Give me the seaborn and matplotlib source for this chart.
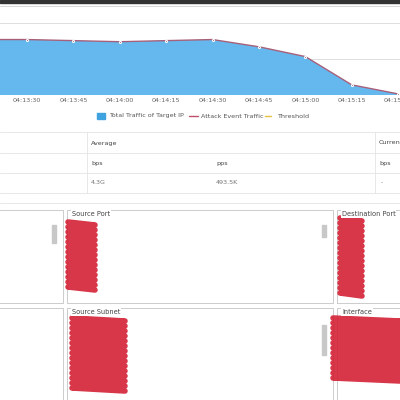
import seaborn as sns
import pandas as pd
from matplotlib import pyplot as plt
from matplotlib.patches import Rectangle

# time in seconds after 04:13:00, traffic in G units
times = [15, 30, 45, 60, 75, 90, 105, 120, 135, 150]
traffic = [1.53, 1.53, 1.5, 1.47, 1.5, 1.53, 1.33, 1.06, 0.28, 0.03]
tick_labels = ['04:13:30', '04:13:45', '04:14:00', '04:14:15', '04:14:30',
               '04:14:45', '04:15:00', '04:15:15', '04:15:30']
legend_labels = ['Total Traffic of Target IP', 'Attack Event Traffic', 'Threshold']
avg_bps = '4.3G'
avg_pps = '493.5K'

df = pd.DataFrame({'t': times, 'traffic': traffic})

sns.set_style('white')
fig = plt.figure(figsize=(4, 4), dpi=100)
fig.patch.set_facecolor('white')


def fy(py):
    return 1 - py / 400


def fx(px):
    return px / 400


def text(px, py, s, size=4.8, color='#555555', **kw):
    fig.text(fx(px), fy(py), s, fontsize=size, color=color, va='center', **kw)


def hline(py, x0=0, x1=400, color='#e4e4e4', lw=0.6):
    fig.add_artist(plt.Line2D([fx(x0), fx(x1)], [fy(py), fy(py)], color=color, lw=lw))


def vline(px, y0, y1, color='#e4e4e4', lw=0.6):
    fig.add_artist(plt.Line2D([fx(px), fx(px)], [fy(y0), fy(y1)], color=color, lw=lw))


# top dark bar
fig.add_artist(Rectangle((0, fy(3)), 1, 3 / 400, transform=fig.transFigure, color='#333333'))
hline(6, color='#d0d0d0')

ax = fig.add_axes([0, fy(95), 1, (95 - 8) / 400])
ax.fill_between(df['t'], df['traffic'], color='#64b8ee', lw=0)
sns.lineplot(data=df, x='t', y='traffic', ax=ax, color='#a8607a', lw=1.0,
             marker='o', markersize=1.5)
ax.set_xlim(21.3, 150.6)
ax.set_ylim(0, 2.4)
ax.set_yticks([1, 2])
ax.yaxis.grid(True, color='#dddddd', lw=0.7)
ax.set_yticklabels([])
ax.tick_params(left=False, bottom=False, labelbottom=False)
for s in ax.spines.values():
    s.set_visible(False)
ax.axhline(0, color='#cccccd', lw=0.7)
ax.set_xlabel('')
ax.set_ylabel('')
for lbl, t in zip(tick_labels, times[1:]):
    xp = (t - 21.3) / (150.6 - 21.3) * 400
    text(xp, 100, lbl, size=4.6, color='#666666', ha='center')

# legend
fig.add_artist(Rectangle((fx(97), fy(119)), 8 / 400, 6 / 400, transform=fig.transFigure, color='#3fa3e0'))
text(109, 116, legend_labels[0], size=4.6)
hline(116, 189, 198, color='#c0506a', lw=1)
text(201, 116, legend_labels[1], size=4.6)
hline(116, 265, 271, color='#e8c040', lw=1)
text(277, 116, legend_labels[2], size=4.6)

# table
hline(132)
for y in (153, 173, 193):
    hline(y)
vline(87, 132, 193)
vline(375, 132, 193)
text(91, 143, 'Average', size=4.6, color='#444444')
text(379, 143, 'Curren', size=4.6, color='#444444')
text(91, 164, 'bps', size=4.6, color='#444444')
text(216, 164, 'pps', size=4.6, color='#444444')
text(379, 164, 'bps', size=4.6, color='#444444')
text(91, 183, avg_bps, size=4.6, color='#777777')
text(216, 183, avg_pps, size=4.6, color='#777777')
text(381, 183, '-', size=4.6, color='#777777')
hline(203)

# panels
panels = [(-2, 63, 210, 303, ''), (67, 333, 210, 303, 'Source Port'),
          (337, 402, 210, 303, 'Destination Port'),
          (-2, 63, 308, 402, ''), (67, 333, 308, 402, 'Source Subnet'),
          (337, 402, 308, 402, 'Interface')]
for x0, x1, y0, y1, title in panels:
    fig.add_artist(Rectangle((fx(x0), fy(y1)), (x1 - x0) / 400, (y1 - y0) / 400,
                             transform=fig.transFigure, fill=False, ec='#cccccc', lw=0.7))
    if title:
        text(x0 + 5, y0 + 4, title, size=4.8, color='#444444',
             bbox=dict(fc='white', ec='none', pad=0.5))
# scrollbars
for px, y0, y1 in [(54, 225, 243), (324, 225, 237), (324, 325, 355)]:
    fig.add_artist(Rectangle((fx(px - 2), fy(y1)), 4 / 400, (y1 - y0) / 400,
                             transform=fig.transFigure, color='#c8c8c8'))

# redaction scribbles
red = '#d42035'
for x0, x1, y0, y1 in [(68, 95, 222, 295), (340, 362, 218, 300),
                       (72, 125, 318, 395), (333, 400, 318, 385)]:
    n = int((y1 - y0) / 5)
    xs, ys = [], []
    for i in range(n):
        xs += [x0, x1]
        ys += [y0 + i * 5, y0 + i * 5 + 3]
    fig.add_artist(plt.Line2D([fx(v) for v in xs], [fy(v) for v in ys],
                              color=red, lw=4, alpha=0.9, solid_capstyle='round'))

fig.savefig('out.png', dpi=100)
